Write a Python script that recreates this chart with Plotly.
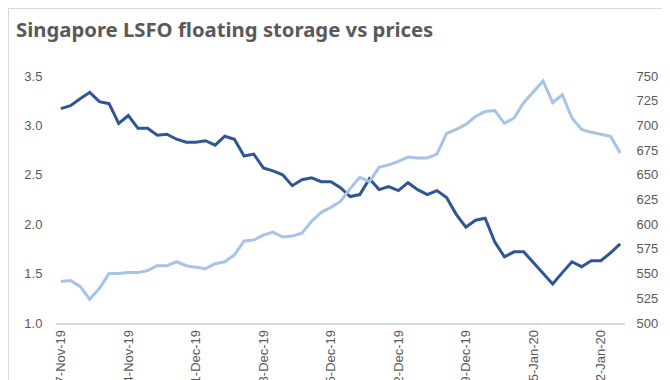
import pandas as pd
import plotly.graph_objects as go

dates = pd.date_range("2019-11-17", "2020-01-14", freq="D")

storage = [3.17, 3.20, 3.27, 3.335, 3.24, 3.22, 3.02, 3.10, 2.97, 2.97,
           2.90, 2.91, 2.86, 2.83, 2.83, 2.845, 2.80, 2.89, 2.86, 2.69,
           2.71, 2.57, 2.54, 2.50, 2.39, 2.45, 2.47, 2.43, 2.43, 2.37,
           2.28, 2.30, 2.46, 2.35, 2.38, 2.34, 2.42, 2.35, 2.30, 2.34,
           2.27, 2.10, 1.97, 2.04, 2.06, 1.82, 1.67, 1.72, 1.72, 1.61,
           1.50, 1.395, 1.51, 1.62, 1.57, 1.63, 1.63, 1.71, 1.80]

price = [542, 543, 537, 524, 535, 550, 550, 551, 551, 553,
         558, 558, 562, 558, 556.5, 555, 560, 562, 569, 583,
         584, 589, 592, 587, 588, 591, 603, 612, 617, 623,
         636, 647.5, 643, 657.5, 660, 663.5, 668, 667, 667, 671,
         692, 696, 701, 709, 714, 715, 702, 707.5, 723, 734,
         745, 723, 731, 707.5, 696, 693, 691, 689, 672]

tick_dates = pd.date_range("2019-11-17", "2020-01-12", freq="7D")

W, H = 670, 380
ML, MR, MT, MB = 48, 53, 68, 65
PW, PH = W - ML - MR, H - MT - MB

fig = go.Figure()
fig.add_trace(go.Scatter(x=dates, y=storage, mode="lines", name="Floating storage",
                         line=dict(color="#2E5596", width=3), yaxis="y"))
fig.add_trace(go.Scatter(x=dates, y=price, mode="lines", name="LSFO price",
                         line=dict(color="#A6C3E9", width=3), yaxis="y2"))

tickfont = dict(family="Liberation Sans, Arial, sans-serif", size=13, color="#595959")

fig.update_layout(
    width=W, height=H,
    template="none",
    paper_bgcolor="white", plot_bgcolor="white",
    margin=dict(l=ML, r=MR, t=MT, b=MB, autoexpand=False),
    showlegend=False,
    title=dict(text="<b>Singapore LSFO floating storage vs prices</b>",
               x=8 / W, xanchor="left", y=1 - 22 / H, yanchor="middle",
               font=dict(family="Noto Sans, Open Sans, sans-serif", size=20.3, color="#595959")),
    xaxis=dict(
        type="date",
        range=[dates[0] - pd.Timedelta(hours=12), dates[-1] + pd.Timedelta(hours=12)],
        tickmode="array", tickvals=tick_dates,
        ticktext=[f"{d.day}-{d.strftime('%b-%y')}" for d in tick_dates],
        tickangle=-90, tickfont=tickfont,
        showgrid=False, zeroline=False,
        showline=True, linecolor="#D9D9D9", linewidth=1.5,
        ticks="", automargin=False,
    ),
    yaxis=dict(
        range=[1.0, 3.5], tickvals=[1.0, 1.5, 2.0, 2.5, 3.0, 3.5],
        ticktext=["1.0", "1.5", "2.0", "2.5", "3.0", "3.5"],
        tickfont=tickfont, showgrid=False, zeroline=False, showline=False,
        ticks="outside", ticklen=10, tickcolor="rgba(0,0,0,0)", automargin=False,
    ),
    yaxis2=dict(
        range=[500, 750], tickvals=list(range(500, 751, 25)),
        overlaying="y", side="right",
        tickfont=tickfont, showgrid=False, zeroline=False, showline=False,
        ticks="outside", ticklen=8, tickcolor="rgba(0,0,0,0)", automargin=False,
    ),
)

# light chart-area border
fig.add_shape(type="rect", xref="paper", yref="paper",
              x0=-ML / PW + 0.5 / PW, x1=1 + MR / PW - 0.5 / PW,
              y0=-MB / PH - 10 / PH, y1=1 + MT / PH - 0.5 / PH,
              line=dict(color="#D9D9D9", width=1), layer="below")

fig.write_html("out.html")
